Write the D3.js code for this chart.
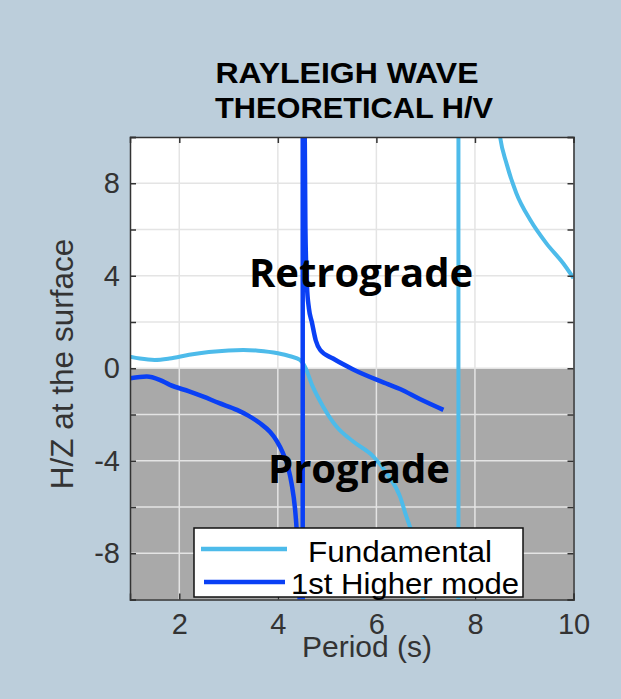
<html><head>
<meta charset="UTF-8">
<title>Rayleigh wave theoretical H/V</title>
<style>
  body { margin: 0; padding: 0; background: #bccedb; overflow: hidden; }
  svg text { font-family: "Liberation Sans", Arial, sans-serif; }
</style>
</head>
<body>
<div id="chart"></div>
<script src="https://cdn.jsdelivr.net/npm/d3@7/dist/d3.min.js"></script>
<script>
  // values (huge values = the jump at the asymptotes)
  const fundPeriod = [1.0, 1.2, 1.5, 1.8, 2.2, 2.6, 3.0, 3.3, 3.6, 4.0, 4.25, 4.45, 4.55, 4.7, 4.92, 5.19, 5.53, 5.94, 6.21, 6.48, 6.61, 6.68, 6.8, 6.9, 6.95, 7.1, 7.3, 7.5, 7.66, 7.67, 7.8, 8.0, 8.3, 8.51, 8.64, 8.84, 9.12, 9.45, 9.79, 10.0];
  const fundHZ     = [0.5, 0.42, 0.36, 0.42, 0.58, 0.7, 0.77, 0.79, 0.76, 0.65, 0.52, 0.36, 0.07, -0.75, -1.66, -2.52, -3.17, -3.82, -4.54, -5.55, -6.42, -6.85, -7.8, -9.0, -10, -14, -25, -60, -500, 500, 60, 30, 15, 10.0, 8.86, 7.57, 6.42, 5.4, 4.54, 3.9];

  const hmPeriod = [1.0, 1.34, 1.6, 1.81, 2.2, 2.49, 2.8, 3.17, 3.4, 3.64, 3.84, 3.98, 4.1, 4.21, 4.28, 4.35, 4.38, 4.42, 4.45, 4.48, 4.5, 4.51, 4.53, 4.56, 4.59, 4.63, 4.69, 4.77, 4.86, 5.12, 5.53, 6.2, 6.48, 6.88, 7.36];
  const hmHZ     = [-0.43, -0.36, -0.5, -0.72, -1.0, -1.23, -1.5, -1.8, -2.05, -2.38, -2.75, -3.15, -3.65, -4.3, -5.0, -6.1, -6.9, -8.5, -11, -25, -500, 500, 15, 6, 3.6, 2.6, 2.0, 1.2, 0.79, 0.42, -0.05, -0.66, -0.9, -1.33, -1.8];

  const seriesNames = ["Fundamental", "1st Higher mode"];
  const seriesColors = ["#4dbbea", "#0a40f5"];
  const xTicks = [2, 4, 6, 8, 10];
  const yTicks = [-10, -8, -6, -4, -2, 0, 2, 4, 6, 8, 10];
  const yLabels = [-8, -4, 0, 4, 8];
  const titleLines = ["RAYLEIGH WAVE", "THEORETICAL H/V"];

  const W = 621, H = 699;
  const L = 130, R = 573.5, T = 137, B = 599.5;

  const svg = d3.select("#chart").append("svg")
    .attr("width", W)
    .attr("height", H);

  const x = d3.scaleLinear().domain([1, 10]).range([L, R]);
  const y = d3.scaleLinear().domain([-10, 10]).range([B, T]);

  svg.append("defs").append("clipPath").attr("id", "plot")
    .append("rect").attr("x", L).attr("y", T).attr("width", R - L).attr("height", B - T);

  // plot background, prograde half shaded
  svg.append("rect").attr("x", L).attr("y", T).attr("width", R - L).attr("height", B - T).attr("fill", "#fff");
  svg.append("rect")
    .attr("x", L).attr("y", y(0))
    .attr("width", R - L).attr("height", y(-10) - y(0))
    .attr("fill", "#a9a9a9");

  // grid
  const grid = svg.append("g").attr("stroke", "#e4e4e4").attr("stroke-width", 1.5);
  grid.selectAll(".gx").data(xTicks.filter(d => d < 10)).enter().append("line")
    .attr("x1", d => x(d)).attr("x2", d => x(d)).attr("y1", T).attr("y2", B);
  grid.selectAll(".gy").data(yTicks.filter(d => d > -10 && d < 10)).enter().append("line")
    .attr("x1", L).attr("x2", R).attr("y1", d => y(d)).attr("y2", d => y(d));

  // curves
  const line = d3.line().x(d => x(d[0])).y(d => y(d[1])).curve(d3.curveMonotoneX);
  const curves = svg.append("g").attr("clip-path", "url(#plot)");
  curves.append("path")
    .datum(d3.zip(fundPeriod, fundHZ))
    .attr("d", line)
    .attr("fill", "none").attr("stroke", seriesColors[0]).attr("stroke-width", 4);
  curves.append("path")
    .datum(d3.zip(hmPeriod, hmHZ))
    .attr("d", line)
    .attr("fill", "none").attr("stroke", seriesColors[1]).attr("stroke-width", 4.5);

  // axes box with inward ticks on all four sides
  const tickLen = 6;
  const axisG = svg.append("g").attr("color", "#333");
  axisG.append("g").attr("transform", `translate(0,${B})`)
    .call(d3.axisBottom(x).tickValues(xTicks).tickSize(-tickLen).tickPadding(14).tickFormat(d3.format("d")));
  axisG.append("g").attr("transform", `translate(0,${T})`)
    .call(d3.axisTop(x).tickValues(xTicks).tickSize(-tickLen).tickFormat(""));
  axisG.append("g").attr("transform", `translate(${L},0)`)
    .call(d3.axisLeft(y).tickValues(yTicks).tickSize(-tickLen).tickPadding(10)
      .tickFormat(d => yLabels.includes(d) ? d : ""));
  axisG.append("g").attr("transform", `translate(${R},0)`)
    .call(d3.axisRight(y).tickValues(yTicks).tickSize(-tickLen).tickFormat(""));
  axisG.selectAll(".domain").attr("stroke-width", 1.5);
  axisG.selectAll(".tick line").attr("stroke-width", 1.5);
  axisG.selectAll(".tick text")
    .attr("font-family", "Liberation Sans, Arial, sans-serif")
    .attr("font-size", 29)
    .attr("fill", "#333");

  // region labels
  svg.append("text").text("Retrograde")
    .attr("x", 361).attr("y", 287)
    .attr("text-anchor", "middle")
    .style("font-family", "'Open Sans', Lato, sans-serif")
    .attr("font-weight", "bold").attr("font-size", 40).attr("fill", "#000");
  svg.append("text").text("Prograde")
    .attr("x", 359).attr("y", 483)
    .attr("text-anchor", "middle")
    .style("font-family", "'Open Sans', Lato, sans-serif")
    .attr("font-weight", "bold").attr("font-size", 40).attr("fill", "#000");

  // legend
  const leg = svg.append("g");
  leg.append("rect")
    .attr("x", 194).attr("y", 528).attr("width", 329).attr("height", 69)
    .attr("fill", "#fff").attr("stroke", "#111").attr("stroke-width", 1.5);
  const legRows = [
    {x1: 201, x2: 287, ly: 549, tx: 308, ty: 562, len: 184},
    {x1: 204, x2: 285, ly: 582, tx: 291, ty: 594, len: 228}
  ];
  seriesNames.forEach((name, i) => {
    const r = legRows[i];
    leg.append("line")
      .attr("x1", r.x1).attr("x2", r.x2).attr("y1", r.ly).attr("y2", r.ly)
      .attr("stroke", seriesColors[i]).attr("stroke-width", 4.5);
    leg.append("text").text(name)
      .attr("x", r.tx).attr("y", r.ty)
      .attr("textLength", r.len).attr("lengthAdjust", "spacingAndGlyphs")
      .attr("font-size", 29).attr("fill", "#000");
  });

  // axis labels
  svg.append("text").text("Period (s)")
    .attr("x", 367).attr("y", 657)
    .attr("text-anchor", "middle")
    .attr("font-size", 30).attr("fill", "#333");
  svg.append("text").text("H/Z at the surface")
    .attr("transform", "translate(73,364) rotate(-90)")
    .attr("text-anchor", "middle")
    .attr("font-size", 31.5).attr("fill", "#333");

  // title
  svg.selectAll(".title").data(titleLines).enter().append("text")
    .text(d => d)
    .attr("x", (d, i) => i === 0 ? 347 : 354)
    .attr("y", (d, i) => i === 0 ? 83 : 118)
    .attr("text-anchor", "middle")
    .attr("textLength", (d, i) => i === 0 ? 263 : 278)
    .attr("lengthAdjust", "spacingAndGlyphs")
    .attr("font-weight", "bold").attr("font-size", 30).attr("fill", "#000");
</script>
</body></html>
